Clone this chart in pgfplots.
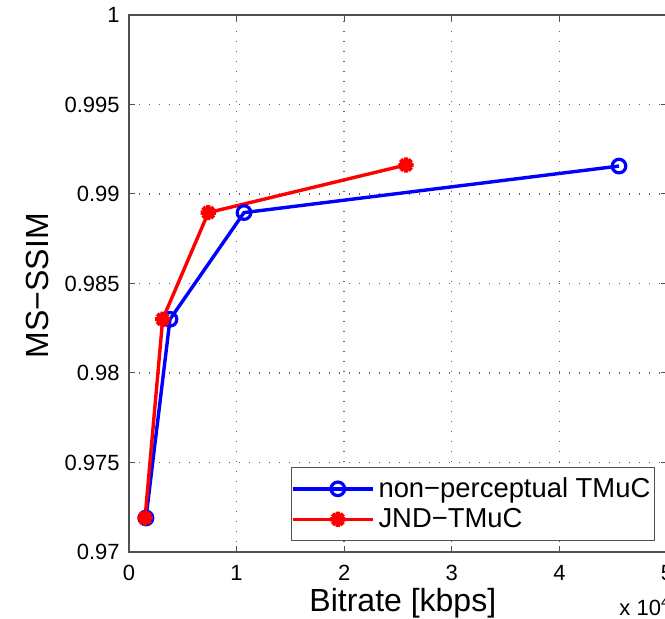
\documentclass[border=0pt]{standalone}
\usepackage{fontspec}
\setmainfont{Liberation Sans}
\usepackage{pgfplots}
\pgfplotsset{compat=1.18}
\definecolor{framegray}{RGB}{80,80,80}
\definecolor{gridgray}{RGB}{100,100,100}
\pgfdeclareplotmark{mstar}{%
  \pgfpathmoveto{\pgfqpoint{-\pgfplotmarksize}{0pt}}%
  \pgfpathlineto{\pgfqpoint{\pgfplotmarksize}{0pt}}%
  \pgfpathmoveto{\pgfqpoint{0pt}{-\pgfplotmarksize}}%
  \pgfpathlineto{\pgfqpoint{0pt}{\pgfplotmarksize}}%
  \pgfpathmoveto{\pgfqpoint{-0.707\pgfplotmarksize}{-0.707\pgfplotmarksize}}%
  \pgfpathlineto{\pgfqpoint{0.707\pgfplotmarksize}{0.707\pgfplotmarksize}}%
  \pgfpathmoveto{\pgfqpoint{-0.707\pgfplotmarksize}{0.707\pgfplotmarksize}}%
  \pgfpathlineto{\pgfqpoint{0.707\pgfplotmarksize}{-0.707\pgfplotmarksize}}%
  \pgfusepathqstroke}
\begin{document}
\begin{tikzpicture}
\begin{axis}[
  at={(0,0)}, anchor=south west,
  scale only axis, width=269pt, height=268.5pt,
  xmin=0, xmax=50000, ymin=0.97, ymax=1,
  xtick={0,10000,20000,30000,40000,50000},
  xticklabels={0,1,2,3,4,5},
  ytick={0.97,0.975,0.98,0.985,0.99,0.995,1},
  yticklabels={0.97,0.975,0.98,0.985,0.99,0.995,1},
  scaled x ticks=false, scaled y ticks=false,
  tick align=inside, tick pos=both,
  major tick length=3pt,
  every tick/.style={framegray, line width=0.5pt},
  axis line style={framegray, line width=0.6pt},
  grid=major,
  major grid style={gridgray, line width=0.7pt, dash pattern=on 0.7pt off 4.3pt},
  tick label style={font=\fontsize{11}{13}\selectfont, inner sep=0pt},
  xticklabel style={anchor=north, yshift=-6.5pt},
  yticklabel style={anchor=east, xshift=-4.5pt},
  xlabel={Bitrate [kbps]},
  ylabel={MS−SSIM},
  label style={font=\fontsize{16}{19}\selectfont},
  xlabel style={at={(axis description cs:0.509,-0.096)}, anchor=center},
  ylabel style={at={(axis description cs:-0.171,0.496)}, anchor=center},
  legend style={at={(axis description cs:0.9777,0.0205)}, anchor=south east,
    draw=framegray, line width=0.6pt, fill=white,
    font=\fontsize{13.7}{16}\selectfont, inner xsep=0pt, inner ysep=3pt,
    nodes={inner xsep=2pt}, row sep=0pt},
  legend cell align=left,
  legend image code/.code={%
    \path (0pt,0pt) -- (40pt,0pt);
    \draw[mark repeat=2, mark phase=2, #1] plot coordinates {(5pt,0pt) (22.5pt,0pt) (40pt,0pt)};},
]
\addplot[blue, line width=1.7pt, mark=o, mark size=3.4pt, mark options={solid, line width=1.6pt}]
  coordinates {(1580,0.9719) (3810,0.9830) (10690,0.98896) (45540,0.99156)};
\addlegendentry{non−perceptual TMuC}
\addplot[red, line width=1.7pt, mark=mstar, mark size=3.8pt, mark options={solid, line width=2.2pt}]
  coordinates {(1490,0.9719) (3130,0.9830) (7370,0.98896) (25740,0.99162)};
\addlegendentry{JND−TMuC}
\end{axis}
\node[anchor=north east, inner sep=0pt, font=\fontsize{11}{13}\selectfont]
  at ([xshift=2pt, yshift=-22.5pt]current axis.south east) {x 10\textsuperscript{4}};
\pgfresetboundingbox
\useasboundingbox (-64.5pt,-33.5pt) rectangle (268pt,276pt);
\end{tikzpicture}
\end{document}
